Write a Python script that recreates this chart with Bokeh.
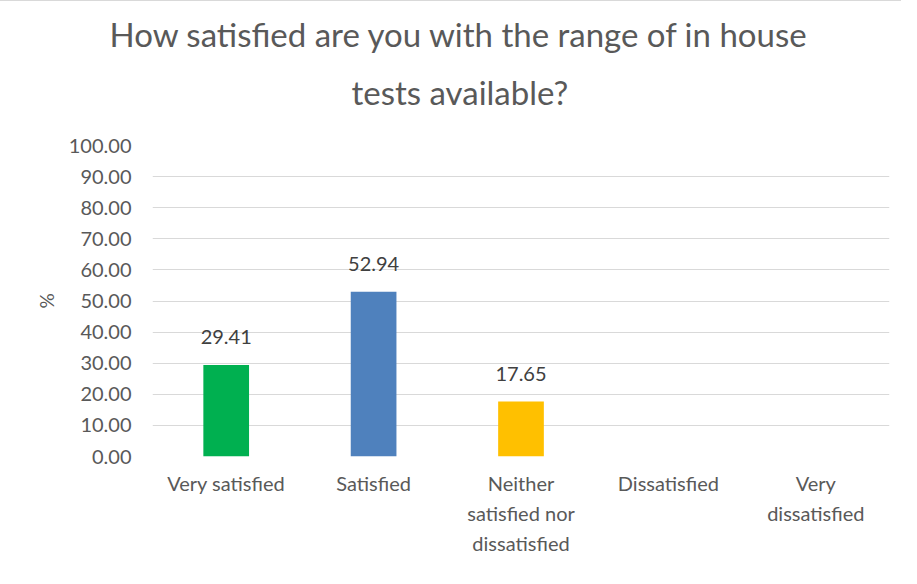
from bokeh.plotting import figure
from bokeh.models import ColumnDataSource, LabelSet, Title, FixedTicker, NumeralTickFormatter
from bokeh.core.properties import value
from bokeh.embed import file_html
from bokeh.resources import INLINE

categories = ["Very satisfied", "Satisfied", "Neither\nsatisfied nor\ndissatisfied",
              "Dissatisfied", "Very\ndissatisfied"]
values = [29.41, 52.94, 17.65, 0, 0]
value_labels = ["29.41", "52.94", "17.65", "", ""]
colors = ["#00b050", "#4f81bd", "#ffc000", "#a5a5a5", "#ed7d31"]
y_ticks = [0, 10, 20, 30, 40, 50, 60, 70, 80, 90, 100]
title_lines = ["How satisfied are you with the range of in house", "tests available?"]

FONT = "Lato"
GREY = "#595959"
W, H = 901, 568

src = ColumnDataSource(dict(cat=categories, val=values, lab=value_labels, col=colors))

p = figure(x_range=categories, y_range=(0, 100), width=W, height=H,
           output_backend="svg", toolbar_location=None,
           min_border_left=152, min_border_right=12, min_border_top=144,
           min_border_bottom=113, title=None)
p.outline_line_color = None
p.styles = {"border-top": "1px solid #d9d9d9"}

# second line first: the first title added sits nearest the plot
p.add_layout(Title(text=title_lines[1], align="left", offset=199,
                   text_font=FONT, text_font_size="33px", text_color=GREY,
                   text_font_style="normal", standoff=67), "above")
p.add_layout(Title(text=title_lines[0], align="left", offset=-43,
                   text_font=FONT, text_font_size="33px", text_color=GREY,
                   text_font_style="normal", standoff=-35), "above")

p.vbar(x="cat", top="val", width=0.31, color="col", line_color=None, source=src)

labels = LabelSet(x="cat", y="val", text="lab", source=src, text_align="center",
                  text_baseline="bottom", y_offset=21, text_font_size="20px",
                  text_color="#404040", text_font=value(FONT))
p.add_layout(labels)

p.yaxis.ticker = FixedTicker(ticks=y_ticks)
p.yaxis.formatter = NumeralTickFormatter(format="0.00")
p.yaxis.axis_line_color = None
p.yaxis.major_tick_line_color = None
p.yaxis.minor_tick_line_color = None
p.yaxis.major_label_standoff = 15
p.yaxis.major_label_text_font = FONT
p.yaxis.major_label_text_font_size = "20px"
p.yaxis.major_label_text_color = GREY
p.yaxis.axis_label = "%"
p.yaxis.axis_label_text_font = FONT
p.yaxis.axis_label_text_font_size = "19px"
p.yaxis.axis_label_text_color = GREY
p.yaxis.axis_label_text_font_style = "normal"
p.yaxis.axis_label_standoff = 8

p.xaxis.axis_line_color = None
p.xaxis.major_tick_line_color = None
p.xaxis.minor_tick_line_color = None
p.xaxis.major_label_standoff = 8
p.xaxis.major_label_text_font = FONT
p.xaxis.major_label_text_font_size = "20px"
p.xaxis.major_label_text_color = GREY
p.xaxis.major_label_text_line_height = 1.27

p.xgrid.grid_line_color = None
p.ygrid.grid_line_color = "#d9d9d9"
p.ygrid.grid_line_width = 1

open("out.html", "w").write(file_html(p, INLINE))
